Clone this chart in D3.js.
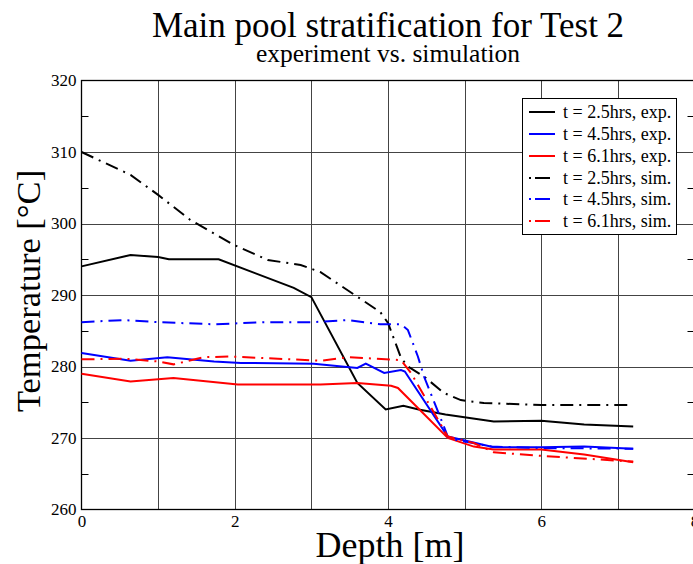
<!DOCTYPE html>
<html>
<head>
<meta charset="utf-8">
<script src="https://cdn.jsdelivr.net/npm/d3@7"></script>
<style>
  body { margin: 0; background: #fff; }
  text { font-family: "Liberation Serif", "DejaVu Serif", serif; }
</style>
</head>
<body>
<div id="canvas"></div>
<script>
// depth [m] and temperature [C]
var depth_exp25 = [0, 0.64, 1.0, 1.14, 1.79, 2.77, 3.0, 3.6, 3.97, 4.2, 4.4, 4.75, 5.38, 6.0, 6.56, 7.2];
var temp_exp25  = [294.0, 295.6, 295.3, 295.0, 295.0, 291.0, 289.7, 277.7, 274.0, 274.5, 274.0, 273.3, 272.3, 272.4, 271.9, 271.6];

var depth_exp45 = [0, 0.64, 1.12, 1.73, 2.08, 3.03, 3.6, 3.71, 3.95, 4.17, 4.22, 4.78, 5.38, 6.0, 6.56, 7.2];
var temp_exp45  = [281.9, 280.8, 281.3, 280.7, 280.5, 280.4, 279.8, 280.4, 279.1, 279.5, 279.3, 270.2, 268.7, 268.7, 268.8, 268.5];

var depth_exp61 = [0, 0.64, 1.2, 2.04, 3.12, 3.6, 4.04, 4.13, 4.78, 5.12, 5.38, 6.0, 6.56, 7.2];
var temp_exp61  = [279.0, 277.9, 278.4, 277.5, 277.5, 277.7, 277.3, 277.0, 270.0, 268.8, 268.4, 268.4, 267.7, 266.6];

var depth_sim25 = [0, 0.64, 1.0, 1.42, 1.99, 2.43, 2.86, 3.12, 3.9, 4.0, 4.17, 4.26, 4.47, 4.73, 4.95, 5.25, 6.0, 7.2];
var temp_sim25  = [310.0, 306.8, 304.0, 300.5, 297.0, 294.9, 294.2, 293.2, 287.6, 286.1, 281.2, 280.0, 278.6, 276.3, 275.3, 274.9, 274.6, 274.6];

var depth_sim45 = [0, 0.55, 1.0, 1.73, 2.38, 3.0, 3.47, 3.9, 4.17, 4.26, 4.39, 4.47, 4.73, 4.78, 4.86, 5.35, 6.0, 7.2];
var temp_sim45  = [286.2, 286.5, 286.2, 285.9, 286.2, 286.2, 286.5, 285.9, 285.9, 285.1, 281.4, 278.6, 271.6, 270.2, 269.8, 268.8, 268.6, 268.5];

var depth_sim61 = [0, 0.55, 1.0, 1.2, 1.6, 1.95, 3.12, 3.48, 4.17, 4.3, 4.78, 5.12, 5.38, 6.0, 7.2];
var temp_sim61  = [281.0, 281.1, 280.7, 280.3, 281.3, 281.4, 280.8, 281.3, 280.9, 279.1, 270.2, 269.3, 268.0, 267.5, 266.7];

var legendLabels = ['t = 2.5hrs, exp.', 't = 4.5hrs, exp.', 't = 6.1hrs, exp.',
                    't = 2.5hrs, sim.', 't = 4.5hrs, sim.', 't = 6.1hrs, sim.'];
var xTicks = [0, 2, 4, 6, 8];
var yTicks = [260, 270, 280, 290, 300, 310, 320];

var series = [
  {x: depth_exp25, y: temp_exp25, color: '#000', sim: false},
  {x: depth_exp45, y: temp_exp45, color: '#00f', sim: false},
  {x: depth_exp61, y: temp_exp61, color: '#f00', sim: false},
  {x: depth_sim25, y: temp_sim25, color: '#000', sim: true},
  {x: depth_sim45, y: temp_sim45, color: '#00f', sim: true},
  {x: depth_sim61, y: temp_sim61, color: '#f00', sim: true}
];

var W = 693, H = 564;
var pLeft = 81.5, pRight = 694.5, pTop = 80.5, pBottom = 509.5;

var svg = d3.select('#canvas').append('svg')
  .attr('width', W)
  .attr('height', H);

var x = d3.scaleLinear().domain([0, 8]).range([pLeft, pRight]);
var y = d3.scaleLinear().domain([260, 320]).range([pBottom, pTop]);

// grid
svg.append('g').selectAll('line').data(d3.range(1, 8)).enter()
  .append('line')
  .attr('x1', function(d){ return Math.round(x(d)) + 0.5; })
  .attr('x2', function(d){ return Math.round(x(d)) + 0.5; })
  .attr('y1', pTop).attr('y2', pBottom)
  .attr('stroke', '#444').attr('stroke-width', 1);

svg.append('g').selectAll('line').data(d3.range(270, 320, 10)).enter()
  .append('line')
  .attr('x1', pLeft).attr('x2', pRight)
  .attr('y1', function(d){ return Math.round(y(d)) + 0.5; })
  .attr('y2', function(d){ return Math.round(y(d)) + 0.5; })
  .attr('stroke', '#444').attr('stroke-width', 1);

// minor ticks on left and right
var minors = d3.range(265, 320, 10);
svg.append('g').selectAll('line').data(minors).enter()
  .append('line')
  .attr('x1', pLeft).attr('x2', pLeft + 7)
  .attr('y1', function(d){ return Math.round(y(d)) + 0.5; })
  .attr('y2', function(d){ return Math.round(y(d)) + 0.5; })
  .attr('stroke', '#000');
svg.append('g').selectAll('line').data(minors).enter()
  .append('line')
  .attr('x1', pRight - 7).attr('x2', pRight)
  .attr('y1', function(d){ return Math.round(y(d)) + 0.5; })
  .attr('y2', function(d){ return Math.round(y(d)) + 0.5; })
  .attr('stroke', '#000');

// frame
svg.append('rect')
  .attr('x', pLeft).attr('y', pTop)
  .attr('width', pRight - pLeft).attr('height', pBottom - pTop)
  .attr('fill', 'none').attr('stroke', '#000').attr('stroke-width', 1.3);

// axes labels
var xAxis = d3.axisBottom(x).tickValues(xTicks).tickSize(0).tickPadding(5);
var gx = svg.append('g').attr('transform', 'translate(0,' + pBottom + ')').call(xAxis);
gx.select('.domain').remove();
gx.selectAll('text').attr('font-size', 17).attr('font-family', '"Liberation Serif", serif').attr('fill', '#000');

var yAxis = d3.axisLeft(y).tickValues(yTicks).tickSize(0).tickPadding(5);
var gy = svg.append('g').attr('transform', 'translate(' + pLeft + ',0)').call(yAxis);
gy.select('.domain').remove();
gy.selectAll('text').attr('font-size', 17).attr('font-family', '"Liberation Serif", serif').attr('fill', '#000');

// curves
var line = d3.line()
  .x(function(d){ return x(d[0]); })
  .y(function(d){ return y(d[1]); });

series.forEach(function(s) {
  var pts = d3.zip(s.x, s.y);
  svg.append('path')
    .attr('d', line(pts))
    .attr('fill', 'none')
    .attr('stroke', s.color)
    .attr('stroke-width', 2)
    .attr('stroke-dasharray', s.sim ? '13,6,2,6' : null);
});

// legend
var lg = svg.append('g');
lg.append('rect')
  .attr('x', 522.5).attr('y', 98.5).attr('width', 154).attr('height', 136)
  .attr('fill', '#fff').attr('stroke', '#000').attr('stroke-width', 1);

var rowY = [112, 134, 156, 178, 199, 221];
series.forEach(function(s, i) {
  var r = lg.append('g').attr('transform', 'translate(0,' + rowY[i] + ')');
  if (s.sim) {
    r.append('rect').attr('x', 529).attr('y', -1).attr('width', 2).attr('height', 2).attr('fill', s.color);
    r.append('line').attr('x1', 535).attr('x2', 550).attr('y1', 0).attr('y2', 0)
      .attr('stroke', s.color).attr('stroke-width', 2);
  } else {
    r.append('line').attr('x1', 529).attr('x2', 555).attr('y1', 0).attr('y2', 0)
      .attr('stroke', s.color).attr('stroke-width', 2);
  }
  r.append('text').attr('x', 563).attr('y', 5.5)
    .attr('font-size', 18).text(legendLabels[i]);
});

// titles
svg.append('text').attr('x', 388).attr('y', 37).attr('text-anchor', 'middle')
  .attr('font-size', 35).text('Main pool stratification for Test 2');
svg.append('text').attr('x', 388).attr('y', 62).attr('text-anchor', 'middle')
  .attr('font-size', 25.5).text('experiment vs. simulation');

svg.append('text').attr('x', 390).attr('y', 557).attr('text-anchor', 'middle')
  .attr('font-size', 36).text('Depth [m]');
svg.append('text').attr('transform', 'translate(40,291) rotate(-90)')
  .attr('text-anchor', 'middle')
  .attr('font-size', 34.5).text('Temperature [°C]');
</script>
</body>
</html>
